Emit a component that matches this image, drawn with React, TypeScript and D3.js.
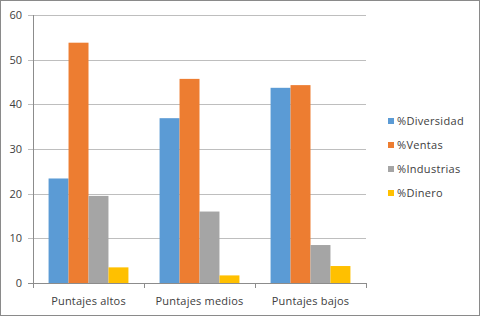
import React from "react";
import * as d3 from "d3";

const categories = ["Puntajes altos", "Puntajes medios", "Puntajes bajos"];
const seriesNames = ["%Diversidad", "%Ventas", "%Industrias", "%Dinero"];
const diversidad = [23.4, 36.9, 43.7];
const ventas = [53.8, 45.7, 44.3];
const industrias = [19.5, 16.0, 8.5];
const dinero = [3.5, 1.7, 3.8];
const yTicks = [0, 10, 20, 30, 40, 50, 60];
const colors = ["#5B9BD5", "#ED7D31", "#A5A5A5", "#FFC000"];

const W = 481;
const H = 317;
const plot = { left: 33, right: 366, top: 15, bottom: 283 };

export default function App() {
  const series = [diversidad, ventas, industrias, dinero];
  const x0 = d3.scaleBand<string>().domain(categories).range([plot.left, plot.right]).padding(0);
  const x1 = d3
    .scaleBand<string>()
    .domain(seriesNames)
    .range([0, x0.bandwidth()])
    .paddingOuter(0.78)
    .paddingInner(0);
  const y = d3.scaleLinear().domain([0, 60]).range([plot.bottom, plot.top]);
  const font = "'Open Sans', 'Liberation Sans', sans-serif";
  const grid = "#BEBEBE";
  const axis = "#8C8C8C";
  return (
    <div style={{ position: "fixed", left: 0, top: 0 }}>
      <svg width={W} height={H} style={{ display: "block" }}>
        <rect x={0.5} y={0.5} width={W - 2} height={H - 2} fill="#fff" stroke="#8a8a8a" strokeWidth={1} />
        {yTicks.map((t) => (
          <g key={t}>
            <line
              x1={plot.left - 5}
              x2={plot.right}
              y1={Math.round(y(t)) + 0.5}
              y2={Math.round(y(t)) + 0.5}
              stroke={t === 0 ? axis : grid}
              strokeWidth={1}
            />
            <text
              x={plot.left - 11}
              y={y(t)}
              dy="0.35em"
              textAnchor="end"
              fontFamily={font}
              fontSize={11}
              fill="#404040"
            >
              {t}
            </text>
          </g>
        ))}
        <line x1={plot.left + 0.5} x2={plot.left + 0.5} y1={plot.top} y2={plot.bottom + 5} stroke={axis} />
        {categories.map((c) => (
          <line
            key={"tk" + c}
            x1={Math.round((x0(c) as number) + x0.bandwidth()) + 0.5}
            x2={Math.round((x0(c) as number) + x0.bandwidth()) + 0.5}
            y1={plot.bottom}
            y2={plot.bottom + 5}
            stroke={axis}
          />
        ))}
        {categories.map((c, i) => (
          <g key={c} transform={`translate(${x0(c)},0)`}>
            {series.map((s, j) => (
              <rect
                key={j}
                x={x1(seriesNames[j])}
                y={y(s[i])}
                width={x1.bandwidth()}
                height={y(0) - y(s[i])}
                fill={colors[j]}
              />
            ))}
            <text
              x={x0.bandwidth() / 2}
              y={301}
              dy="0.35em"
              textAnchor="middle"
              fontFamily={font}
              fontSize={11}
              letterSpacing={0.2}
              fill="#404040"
            >
              {c}
            </text>
          </g>
        ))}
        {seriesNames.map((n, j) => (
          <g key={n} transform={`translate(388,${121 + j * 24})`}>
            <rect x={0} y={-3} width={6} height={6} fill={colors[j]} />
            <text x={9} y={0} dy="0.35em" fontFamily={font} fontSize={11} letterSpacing={0.3} fill="#404040">
              {n}
            </text>
          </g>
        ))}
      </svg>
    </div>
  );
}
